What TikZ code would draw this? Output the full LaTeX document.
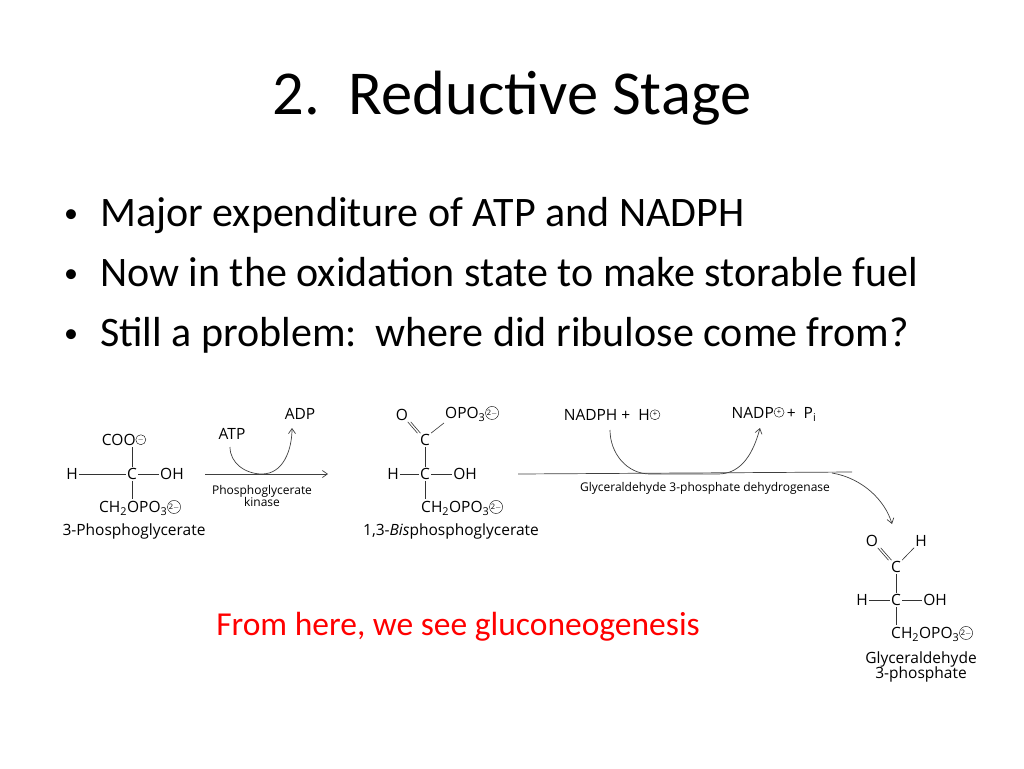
\documentclass[tikz,border=0pt]{standalone}
\usepackage{fontspec}
\setmainfont{Carlito}
\newfontfamily\chemfont{Open Sans}
\usetikzlibrary{positioning,arrows.meta}
\tikzset{
  chem/.style={font=\chemfont\fontsize{15.5}{17}\selectfont, inner sep=1pt},
  enzyme/.style={font=\chemfont\fontsize{12}{13}\selectfont, inner sep=1pt, align=center},
  bond/.style={line width=0.6pt, black!80},
  react/.style={line width=0.7pt, black!75, -{Straight Barb[length=5pt,width=7pt]}},
  bullet/.style={font=\fontsize{42}{46}\selectfont, anchor=base west, inner sep=0pt}
}
\newcommand{\chgsign}[1]{\raisebox{0.7ex}{\tikz[baseline]\node[draw,circle,inner sep=0.3pt,font=\chemfont\fontsize{7.5}{7.5}\selectfont,minimum size=10pt]{#1};}}
\newcommand{\opothree}{OPO\textsubscript{3}}
\begin{document}
\begin{tikzpicture}[x=1pt,y=-1pt]
\useasboundingbox (0,0) rectangle (1024,768);
% title and bullets
\node (title) at (512,98) {\fontsize{62.5}{66}\selectfont 2.\ \ Reductive Stage};
\foreach \y/\txt [count=\i] in {226/Major expenditure of ATP and NADPH,
  286/Now in the oxidation state to make storable fuel,
  346/Still a problem:\ \ where did ribulose come from?}{
  \node[bullet, font=\fontsize{28}{32}\selectfont] (dot\i) at (64,\y-4) {\textbullet};
  \node[bullet] (line\i) at (100,\y) {\txt};
}
% 3-phosphoglycerate
\node[chem] (aCOO) at (124,440) {COO\chgsign{$-$}};
\node[chem] (aC) at (132,474) {C};
\node[chem] (aH) at (72,474) {H};
\node[chem] (aOH) at (172,474) {OH};
\node[chem] (aCH) at (140,508) {CH\textsubscript{2}\opothree\chgsign{2$-$}};
\node[chem] (aname) at (134,531) {3-Phosphoglycerate};
\draw[bond] (aH) -- (aC); \draw[bond] (aC) -- (aOH);
\draw[bond] (aC) -- (aCOO.south -| aC); \draw[bond] (aC) -- (aCH.north -| aC);
% kinase arrow
\coordinate (k1) at (205,474); \coordinate (k2) at (328,474);
\draw[react] (k1) -- (k2);
\node[chem] (ATP) at (232,434) {ATP};
\node[chem] (ADP) at (300,414) {ADP};
\draw[react] (230,447) to[out=-90,in=180] (262,474) to[out=0,in=-90] (292,428);
\node[enzyme] (kin) at (262,496) {Phosphoglycerate\\[-1pt]kinase};
% 1,3-bisphosphoglycerate
\node[chem] (bO) at (402,415) {O};
\node[chem] (bOPO) at (472,414) {\opothree\chgsign{2$-$}};
\node[chem] (bC1) at (425,440) {C};
\node[chem] (bC) at (425,474) {C};
\node[chem] (bH) at (393,474) {H};
\node[chem] (bOH) at (465,474) {OH};
\node[chem] (bCH) at (462,508) {CH\textsubscript{2}\opothree\chgsign{2$-$}};
\node[chem] (bname) at (451,531) {1,3-\textit{Bis}phosphoglycerate};
\draw[bond] ([xshift=-1.5pt]bO.south east) -- ([xshift=-1.5pt]bC1.north west);
\draw[bond] ([xshift=1.5pt]bO.south east) -- ([xshift=1.5pt]bC1.north west);
\draw[bond] (bC1.north east) -- (bOPO.south west);
\draw[bond] (bC1) -- (bC); \draw[bond] (bH) -- (bC); \draw[bond] (bC) -- (bOH);
\draw[bond] (bC) -- (bCH.north -| bC);
% dehydrogenase arrow
\coordinate (d1) at (518,474); \coordinate (d2) at (852,472); \coordinate (dturn) at (832,473);
\draw[line width=0.7pt, black!75] (d1) -- (d2);
\draw[react] (dturn) .. controls (862,478) and (885,500) .. (892,524);
\node[chem] (nadph) at (612,415) {NADPH +\ \ H\chgsign{+}};
\node[chem] (nadp) at (774,414) {NADP\chgsign{+}\,+\ \ P\textsubscript{i}};
\draw[react] (610,430) to[out=-90,in=180] (650,474) -- (718,474) to[out=0,in=-105] (760,428);
\node[enzyme] (dhg) at (705,488) {Glyceraldehyde 3-phosphate dehydrogenase};
% glyceraldehyde 3-phosphate
\node[chem] (cO) at (872,541) {O};
\node[chem] (cHt) at (921,541) {H};
\node[chem] (cC1) at (896,567) {C};
\node[chem] (cC) at (896,600) {C};
\node[chem] (cH) at (862,600) {H};
\node[chem] (cOH) at (935,600) {OH};
\node[chem] (cCH) at (932,634) {CH\textsubscript{2}\opothree\chgsign{2$-$}};
\node[chem, align=center] (cname) at (921,667) {Glyceraldehyde\\[-2pt]3-phosphate};
\draw[bond] ([xshift=-1.5pt]cO.south east) -- ([xshift=-1.5pt]cC1.north west);
\draw[bond] ([xshift=1.5pt]cO.south east) -- ([xshift=1.5pt]cC1.north west);
\draw[bond] (cC1.north east) -- (cHt.south west);
\draw[bond] (cC1) -- (cC); \draw[bond] (cH) -- (cC); \draw[bond] (cC) -- (cOH);
\draw[bond] (cC) -- (cCH.north -| cC);
% note
\node[text=red, font=\fontsize{33.5}{36}\selectfont] (note) at (458,627) {From here, we see gluconeogenesis};
\end{tikzpicture}
\end{document}
